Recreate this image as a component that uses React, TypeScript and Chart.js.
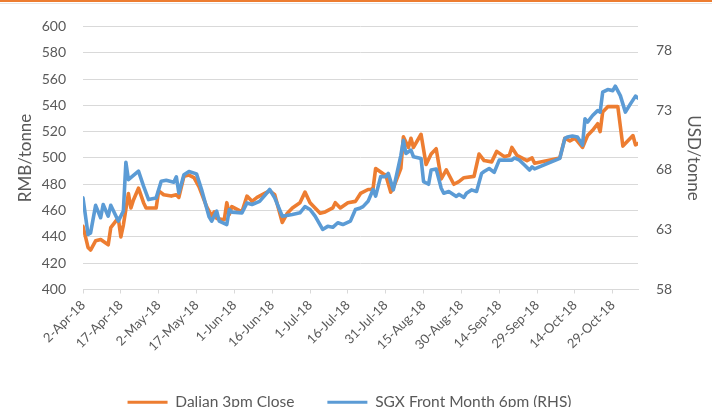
import { useEffect, useRef } from "react";
import { Chart, registerables } from "chart.js";

Chart.register(...registerables);

// Days since 2-Apr-2018
const dalianDays = [0, 2, 3, 5, 7, 10, 11, 13, 14, 15, 16, 18, 19, 20, 22, 24, 25, 29, 30, 32, 35, 37, 38, 40, 42, 44, 46, 49, 51, 52, 53, 56, 57, 58, 59, 63, 65, 67, 69, 72, 74, 76, 79, 81, 83, 86, 88, 90, 92, 94, 96, 99, 100, 102, 105, 108, 110, 113, 114, 115, 116, 119, 120, 122, 123, 126, 127, 129, 130, 131, 134, 136, 138, 140, 142, 144, 147, 149, 151, 155, 157, 159, 162, 164, 167, 169, 170, 172, 176, 178, 179, 189, 191, 193, 195, 198, 200, 202, 204, 205, 206, 208, 210, 212, 214, 216, 218, 219, 220];
const dalianValues = [448, 432, 430, 437, 438, 434, 447, 452, 454, 440, 449, 473, 462, 468, 477, 466, 462, 462, 475, 472, 471, 472, 470, 486, 487, 485, 478, 463, 456, 459, 454, 453, 466, 457, 463, 459, 471, 467, 470, 473, 475, 472, 451, 458, 462, 466, 474, 466, 462, 458, 459, 462, 466, 462, 466, 467, 473, 476, 476, 477, 492, 488, 487, 474, 477, 492, 516, 508, 515, 508, 518, 495, 503, 507, 484, 491, 480, 482, 485, 486, 503, 498, 497, 505, 501, 502, 508, 502, 498, 500, 496, 500, 515, 513, 515, 508, 517, 521, 526, 520, 535, 539, 539, 539, 509, 513, 517, 510, 511];

const sgxDays = [0, 2, 3, 5, 7, 8, 10, 11, 14, 16, 17, 18, 22, 24, 26, 29, 31, 33, 36, 37, 38, 40, 42, 45, 47, 50, 51, 53, 54, 57, 58, 59, 63, 65, 67, 70, 72, 74, 76, 79, 83, 86, 88, 90, 92, 95, 97, 99, 101, 103, 106, 108, 110, 111, 113, 115, 116, 118, 120, 121, 123, 126, 127, 128, 130, 131, 134, 135, 137, 138, 140, 142, 143, 145, 148, 149, 151, 152, 154, 156, 158, 159, 161, 163, 165, 168, 170, 171, 173, 175, 177, 178, 179, 189, 191, 192, 194, 196, 198, 199, 200, 202, 204, 205, 206, 208, 210, 211, 213, 215, 217, 219, 220];
const sgxValues = [65.66, 62.6, 62.73, 65.04, 64.0, 65.11, 64.13, 65.04, 63.72, 64.55, 68.64, 67.19, 67.9, 66.64, 65.52, 65.66, 67.05, 67.13, 66.97, 67.42, 66.07, 67.6, 67.86, 67.67, 66.36, 64.07, 63.72, 64.55, 63.72, 63.43, 64.69, 64.47, 64.41, 65.24, 65.11, 65.37, 65.85, 66.36, 65.66, 64.13, 64.27, 64.41, 64.93, 64.69, 64.13, 63.02, 63.28, 63.2, 63.58, 63.43, 63.72, 64.69, 64.82, 64.93, 65.37, 66.36, 65.81, 67.44, 67.44, 67.71, 66.33, 69.22, 70.47, 69.37, 69.66, 69.1, 68.96, 67.02, 66.8, 67.99, 68.08, 66.47, 66.05, 66.2, 65.78, 65.96, 65.7, 66.05, 66.33, 66.2, 67.71, 67.86, 68.12, 67.79, 68.82, 68.82, 68.82, 69.0, 68.82, 68.41, 67.99, 68.26, 68.08, 68.96, 70.62, 70.76, 70.84, 70.76, 70.07, 72.28, 72.0, 72.55, 72.96, 72.83, 74.5, 74.72, 74.63, 75.0, 74.21, 72.83, 73.52, 74.17, 74.0];

const xTickDays = [0, 15, 30, 45, 60, 75, 90, 105, 120, 135, 150, 165, 180, 195, 210];
const leftTicks = [400, 420, 440, 460, 480, 500, 520, 540, 560, 580, 600];
const rightTicks = [58, 63, 68, 73, 78];

const START = Date.UTC(2018, 3, 2);
const MONTHS = ["Jan", "Feb", "Mar", "Apr", "May", "Jun", "Jul", "Aug", "Sep", "Oct", "Nov", "Dec"];
function dayLabel(d: number): string {
  const dt = new Date(START + d * 86400000);
  return `${dt.getUTCDate()}-${MONTHS[dt.getUTCMonth()]}-18`;
}

const FONT = "Lato, 'Liberation Sans', sans-serif";
const TEXT = "#595959";
const GRID = "#D9D9D9";

export default function App() {
  const ref = useRef<HTMLCanvasElement | null>(null);
  useEffect(() => {
    if (!ref.current) return;
    const chart = new Chart(ref.current, {
      type: "line",
      data: {
        datasets: [
          {
            label: "Dalian 3pm Close",
            data: dalianDays.map((d, i) => ({ x: d, y: dalianValues[i] })),
            yAxisID: "y",
            borderColor: "#ED7D31",
            backgroundColor: "#ED7D31",
            borderWidth: 3.6,
            pointRadius: 0,
            tension: 0,
            borderJoinStyle: "round",
            borderCapStyle: "round",
            order: 1,
          },
          {
            label: "SGX Front Month 6pm (RHS)",
            data: sgxDays.map((d, i) => ({ x: d, y: sgxValues[i] })),
            yAxisID: "y1",
            borderColor: "#5B9BD5",
            backgroundColor: "#5B9BD5",
            borderWidth: 3.6,
            pointRadius: 0,
            tension: 0,
            borderJoinStyle: "round",
            borderCapStyle: "round",
            order: 0,
          },
        ],
      },
      options: {
        animation: false,
        responsive: true,
        maintainAspectRatio: false,
        layout: { padding: { top: 25, left: 15, right: 8, bottom: 0 } },
        scales: {
          x: {
            type: "linear",
            min: 0,
            max: 220,
            afterBuildTicks: (s: any) => {
              s.ticks = xTickDays.map((v) => ({ value: v }));
            },
            afterFit: (s: any) => {
              s.height = 72;
            },
            ticks: {
              autoSkip: false,
              maxRotation: 45,
              minRotation: 45,
              callback: (v: any) => dayLabel(Number(v)),
              font: { family: FONT, size: 13 },
              color: TEXT,
              padding: 4,
            },
            grid: { drawOnChartArea: false, drawTicks: true, tickLength: 4, color: GRID },
            border: { color: GRID, width: 1 },
          },
          y: {
            position: "left",
            min: 400,
            max: 600,
            afterBuildTicks: (s: any) => {
              s.ticks = leftTicks.map((v) => ({ value: v }));
            },
            afterFit: (s: any) => {
              s.width = 88;
            },
            ticks: { font: { family: FONT, size: 14 }, color: TEXT, padding: 17 },
            grid: { color: GRID, drawTicks: false },
            border: { display: false },
            title: {
              display: true,
              text: "RMB/tonne",
              font: { family: FONT, size: 17 },
              color: TEXT,
              padding: { top: 20, bottom: 0 },
            },
          },
          y1: {
            position: "right",
            min: 58,
            max: 80,
            afterBuildTicks: (s: any) => {
              s.ticks = rightTicks.map((v) => ({ value: v }));
            },
            afterFit: (s: any) => {
              s.width = 66;
            },
            ticks: { font: { family: FONT, size: 14 }, color: TEXT, padding: 18 },
            grid: { display: false, drawTicks: false },
            border: { display: false },
            title: { display: true, text: "USD/tonne", font: { family: FONT, size: 17 }, color: TEXT, padding: 0 },
          },
        },
        plugins: {
          legend: {
            position: "bottom",
            labels: {
              boxWidth: 40,
              boxHeight: 3,
              padding: 33,
              color: TEXT,
              font: { family: FONT, size: 15.5 },
              sort: (a: any, b: any) => a.datasetIndex - b.datasetIndex,
              generateLabels: (c: any) =>
                (Chart.defaults.plugins.legend.labels as any).generateLabels(c).map((l: any) => ({ ...l, lineWidth: 0 })),
            },
          },
          tooltip: { enabled: false },
        },
      },
    } as any);
    return () => chart.destroy();
  }, []);

  return (
    <div style={{ position: "fixed", left: 0, top: 0, width: 712, height: 407, overflow: "hidden", background: "#fff" }}>
      <div style={{ position: "absolute", left: -20, top: 0, width: 732, height: 420 }}>
        <canvas ref={ref} />
      </div>
      <div style={{ position: "absolute", left: 0, top: 0, width: 712, height: 2, background: "#ED7D31" }} />
      <div style={{ position: "absolute", left: 0, top: 3, width: 712, height: 1, background: "#E6E6E6" }} />
    </div>
  );
}
